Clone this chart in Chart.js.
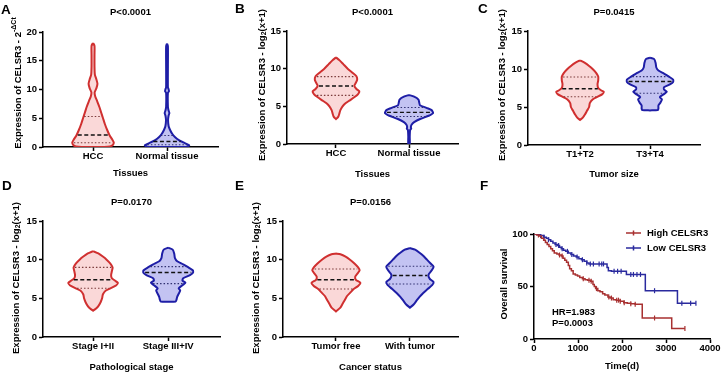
<!DOCTYPE html>
<html>
<head>
<meta charset="utf-8">
<script src="https://cdn.jsdelivr.net/npm/chart.js@4.4.0/dist/chart.umd.min.js"></script>
<style>
  body { margin: 0; background: #fff; width: 723px; height: 374px; overflow: hidden; position: relative; font-family: "Liberation Sans", Arial, sans-serif; }
  .pan { position: absolute; }
  .pan canvas { display: block; }
  .lt { position: absolute; font-weight: bold; font-size: 13.5px; line-height: 1; color: #000; }
  .note { position: absolute; font-weight: bold; font-size: 9.5px; line-height: 1; color: #000; white-space: nowrap; }
</style>
</head>
<body>
<div class="pan" style="left:0;top:0"><canvas id="cA" width="240" height="185"></canvas></div>
<div class="pan" style="left:240px;top:0"><canvas id="cB" width="240" height="185"></canvas></div>
<div class="pan" style="left:480px;top:0"><canvas id="cC" width="243" height="185"></canvas></div>
<div class="pan" style="left:0;top:185px"><canvas id="cD" width="240" height="189"></canvas></div>
<div class="pan" style="left:240px;top:185px"><canvas id="cE" width="240" height="189"></canvas></div>
<div class="pan" style="left:480px;top:185px"><canvas id="cF" width="243" height="189"></canvas></div>

<div class="lt" style="left:1px;top:3px">A</div>
<div class="lt" style="left:235px;top:2px">B</div>
<div class="lt" style="left:478px;top:2px">C</div>
<div class="lt" style="left:2px;top:179px">D</div>
<div class="lt" style="left:235px;top:179px">E</div>
<div class="lt" style="left:480px;top:179px">F</div>

<div class="note" style="left:552px;top:307px">HR=1.983</div>
<div class="note" style="left:552px;top:318px">P=0.0003</div>

<script>
// categories
const tissueCats = ['HCC', 'Normal tissue'];
const sizeCats = ['T1+T2', 'T3+T4'];
const stageCats = ['Stage I+II', 'Stage III+IV'];
const statusCats = ['Tumor free', 'With tumor'];

// violin outlines, top to bottom: [value, half width in category units]
const aHcc = [[18.1,0],[17.6,0.02],[16,0.02],[14,0.02],[12.6,0.025],[11.8,0.045],[11,0.06],[10.2,0.045],[9.5,0.022],[8.8,0.03],[8,0.055],[7,0.085],[6,0.11],[5,0.135],[4,0.16],[3,0.19],[2,0.225],[1.3,0.26],[0.8,0.28],[0.4,0.27],[0.1,0.23],[0,0.15]];
const aNormal = [[18,0],[17.5,0.012],[14,0.012],[10.4,0.012],[10,0.022],[9.7,0.026],[9.4,0.012],[7,0.012],[6.4,0.02],[5.9,0.032],[5.4,0.02],[4.6,0.014],[3.6,0.022],[3,0.04],[2.3,0.07],[1.7,0.11],[1.2,0.16],[0.8,0.22],[0.5,0.27],[0.3,0.3],[0.1,0.28],[0,0.22]];
const bHcc = [[11.5,0],[11.1,0.05],[10.6,0.1],[10,0.16],[9.5,0.22],[9,0.28],[8.5,0.29],[8.1,0.27],[7.7,0.25],[7.3,0.28],[7,0.32],[6.6,0.3],[6.2,0.25],[5.8,0.19],[5.4,0.13],[5,0.09],[4.5,0.06],[4,0.045],[3.6,0.03],[3.3,0]];
const bNormal = [[6.5,0],[6.3,0.07],[5.9,0.13],[5.5,0.14],[5.15,0.15],[4.8,0.24],[4.5,0.31],[4.1,0.33],[3.75,0.27],[3.35,0.16],[2.9,0.07],[2.55,0.035],[2.25,0.025],[2.05,0.03],[1.85,0.015],[1,0.01],[0,0.01]];
const cSmall = [[11.15,0],[10.8,0.07],[10.4,0.13],[10,0.18],[9.5,0.23],[9,0.26],[8.5,0.26],[8,0.25],[7.5,0.26],[7.2,0.3],[7,0.34],[6.7,0.32],[6.3,0.24],[6,0.18],[5.5,0.14],[5,0.13],[4.5,0.1],[4,0.07],[3.6,0.04],[3.3,0]];
const cLarge = [[11.5,0],[11.3,0.06],[10.8,0.08],[10.2,0.09],[9.8,0.12],[9.4,0.2],[9,0.27],[8.6,0.33],[8.3,0.33],[8,0.29],[7.6,0.2],[7.3,0.2],[7,0.24],[6.7,0.2],[6.3,0.14],[6,0.17],[5.6,0.15],[5.2,0.12],[4.8,0.12],[4.6,0.11],[4.55,0]];
const dEarly = [[11.1,0],[10.8,0.07],[10.4,0.13],[10,0.18],[9.5,0.23],[9,0.26],[8.5,0.25],[8,0.24],[7.6,0.25],[7.3,0.29],[7,0.33],[6.7,0.31],[6.3,0.23],[6,0.17],[5.5,0.13],[5,0.12],[4.5,0.1],[4,0.07],[3.7,0.04],[3.4,0]];
const dLate = [[11.55,0],[11.3,0.06],[10.8,0.08],[10.2,0.09],[9.8,0.12],[9.4,0.2],[9,0.27],[8.6,0.33],[8.3,0.33],[8,0.29],[7.6,0.2],[7.3,0.19],[7,0.23],[6.7,0.19],[6.3,0.14],[6,0.16],[5.6,0.14],[5.2,0.12],[4.8,0.11],[4.6,0.1],[4.55,0]];
const eFree = [[10.8,0],[10.7,0.06],[10.4,0.13],[10,0.19],[9.5,0.25],[9,0.3],[8.6,0.32],[8.2,0.29],[7.8,0.26],[7.4,0.27],[7,0.33],[6.6,0.3],[6.2,0.24],[5.8,0.2],[5.3,0.15],[4.8,0.12],[4.3,0.09],[3.8,0.06],[3.3,0]];
const eWith = [[11.5,0],[11.3,0.07],[10.9,0.13],[10.5,0.18],[10,0.23],[9.5,0.28],[9.1,0.32],[8.7,0.3],[8.2,0.26],[7.9,0.25],[7.5,0.27],[7.1,0.32],[6.7,0.3],[6.2,0.24],[5.7,0.18],[5.2,0.13],[4.7,0.09],[4.2,0.05],[3.8,0]];

// quartiles: Q1, median, Q3
const aHccQ = [0.75, 2.1, 5.3], aNormalQ = [0.4, 0.95, 2.0];
const bHccQ = [6.45, 7.7, 8.95], bNormalQ = [3.65, 4.2, 4.85];
const cSmallQ = [6.35, 7.4, 8.95], cLargeQ = [6.8, 8.35, 9.0];
const dEarlyQ = [6.3, 7.4, 9.0], dLateQ = [6.9, 8.35, 9.1];
const eFreeQ = [6.2, 7.4, 8.8], eWithQ = [6.85, 7.95, 9.15];

// survival (days, %)
const highT = [0,60,120,170,220,260,300,340,380,420,460,520,570,620,660,700,740,780,810,850,890,940,990,1040,1100,1160,1220,1290,1340,1370,1400,1450,1500,1560,1610,1680,1730,1800,1870,1960,2040,2120,2200,2300,2460,3130,3430];
const highS = [100,99,98,96,94,92,90,88,86,84,82,81,80,79,77,75,73,70,67,65,62,61,60,58.5,57.5,56.5,56,55,52,50,48,46,45,43,42,40,39,37.5,37,36,34.5,34,33.5,33,20,10,10];
const lowT = [0,80,150,220,280,330,380,430,480,530,580,620,670,720,780,840,900,960,1020,1080,1140,1200,1250,1660,1690,1760,2100,2530,3260,3680];
const lowS = [100,99.5,98.5,97,96,94.5,93,91.5,90,89,87.5,86,84.5,83.5,82,80.5,79,78,76.5,75.5,74,72.5,71.5,68,65,64.5,61.5,46,34,34];
const highCens = [100,580,640,1120,1250,1300,1420,1700,1760,1880,1920,1960,2050,2200,2300,2740,3430];
const lowCens = [150,230,330,500,560,640,760,860,980,1100,1200,1280,1350,1480,1540,1580,1820,1900,1980,2200,2260,2340,2420,2740,3360,3560,3680];

const FAM = '"Liberation Sans", Arial, sans-serif';
const tickFont = { family: FAM, size: 9.5, weight: 'bold' };
const RED = '#d03030', RED_FILL = '#fad8d8', RED_DOT = '#7a3a3a';
const BLUE = '#1e1ea6', BLUE_FILL = '#c3c3f2', BLUE_DOT = '#303070';

function outline(prof, pos) {
  const right = prof.map(([y, w]) => ({ x: pos + w, y }));
  const left = prof.slice().reverse().map(([y, w]) => ({ x: pos - w, y }));
  return right.concat(left, [right[0]]);
}

function widthAt(prof, v) {
  for (let i = 0; i < prof.length - 1; i++) {
    const [y0, w0] = prof[i], [y1, w1] = prof[i + 1];
    if (v <= y0 && v >= y1) return w0 + (w1 - w0) * (y0 - v) / (y0 - y1);
  }
  return 0;
}

const panelText = {
  id: 'panelText',
  afterDraw(chart, args, opts) {
    const ctx = chart.ctx, ca = chart.chartArea;
    ctx.save();
    ctx.fillStyle = '#000';
    if (opts.title) {
      ctx.font = 'bold 9.5px ' + FAM;
      ctx.textAlign = 'center';
      ctx.textBaseline = 'middle';
      ctx.fillText(opts.title, (ca.left + ca.right) / 2, opts.titleY);
    }
    if (opts.yTitle) {
      const big = 'bold 9.5px ' + FAM, small = 'bold 7px ' + FAM;
      ctx.translate(opts.yx, opts.yy);
      ctx.rotate(-Math.PI / 2);
      let total = 0;
      opts.yTitle.forEach(p => { ctx.font = p[1] ? small : big; total += ctx.measureText(p[0]).width; });
      let x = -total / 2;
      ctx.textAlign = 'left';
      ctx.textBaseline = 'middle';
      opts.yTitle.forEach(p => {
        ctx.font = p[1] ? small : big;
        const dy = p[1] === 'sub' ? 2.5 : p[1] === 'sup' ? -3.5 : 0;
        ctx.fillText(p[0], x, dy);
        x += ctx.measureText(p[0]).width;
      });
    }
    ctx.restore();
  }
};

function axisGrid() {
  return { drawOnChartArea: false, drawTicks: true, tickLength: 4, color: '#000', tickColor: '#000', tickWidth: 1.5 };
}

function violinChart(id, cats, profs, quarts, ymax, geo, xr, title, xTitle, yTitle) {
  const canvas = document.getElementById(id);
  const W = canvas.width, H = canvas.height;
  const cols = [[RED, RED_FILL, RED_DOT], [BLUE, BLUE_FILL, BLUE_DOT]];
  const ds = [];
  profs.forEach((p, i) => {
    const pos = i + 1;
    ds.push({ data: outline(p, pos), showLine: true, fill: 'shape', borderColor: cols[i][0], backgroundColor: cols[i][1],
      borderWidth: 2, tension: 0.2, pointRadius: 0, order: 3 });
    quarts[i].forEach((q, k) => {
      const w = widthAt(p, q) * 0.93;
      ds.push({ data: [{ x: pos - w, y: q }, { x: pos + w, y: q }], showLine: true, fill: false,
        borderColor: k === 1 ? '#111' : cols[i][2], borderWidth: k === 1 ? 1.4 : 1.1,
        borderDash: k === 1 ? [4, 2.5] : [1.5, 2], pointRadius: 0, order: 1 });
    });
  });
  return new Chart(canvas, {
    type: 'scatter',
    data: { datasets: ds },
    options: {
      responsive: false,
      animation: false,
      layout: { padding: { left: 0, top: geo.t, right: W - geo.r, bottom: 0 } },
      plugins: {
        legend: { display: false },
        tooltip: { enabled: false },
        panelText: { title, titleY: geo.titleY, yTitle, yx: geo.yx, yy: geo.yy }
      },
      scales: {
        x: {
          type: 'linear', min: xr[0], max: xr[1],
          afterBuildTicks: s => { s.ticks = [{ value: 1 }, { value: 2 }]; },
          afterFit: s => { s.height = H - geo.b; s.paddingLeft = 0; s.paddingRight = 0; },
          ticks: { callback: v => cats[v - 1], color: '#000', font: tickFont, padding: 0, maxRotation: 0 },
          grid: axisGrid(),
          border: { display: true, color: '#000', width: 1.5 },
          title: { display: true, text: xTitle, color: '#000', font: tickFont, padding: { top: 0, bottom: geo.xtp } }
        },
        y: {
          min: 0, max: ymax,
          afterFit: s => { s.width = geo.l; s.paddingTop = 0; s.paddingBottom = 0; },
          ticks: { stepSize: 5, color: '#000', font: tickFont, padding: 2 },
          grid: axisGrid(),
          border: { display: true, color: '#000', width: 1.5 }
        }
      }
    },
    plugins: [panelText]
  });
}

const logTitle = [['Expression of CELSR3 - log'], ['2', 'sub'], ['(x+1)']];

violinChart('cA', tissueCats, [aHcc, aNormal], [aHccQ, aNormalQ], 20,
  { l: 43, t: 32, r: 218, b: 147, titleY: 12, yx: 18, yy: 83, xtp: 6 }, [0.324, 2.689],
  'P<0.0001', 'Tissues', [['Expression of CELSR3 - 2'], ['-ΔCt', 'sup']]);
violinChart('cB', tissueCats, [bHcc, bNormal], [bHccQ, bNormalQ], 15,
  { l: 47, t: 31, r: 218, b: 144, titleY: 12, yx: 22, yy: 85, xtp: 5 }, [0.329, 2.671],
  'P<0.0001', 'Tissues', logTitle);
violinChart('cC', sizeCats, [cSmall, cLarge], [cSmallQ, cLargeQ], 15,
  { l: 48, t: 31, r: 220, b: 145, titleY: 12, yx: 22, yy: 85, xtp: 5 }, [0.257, 2.714],
  'P=0.0415', 'Tumor size', logTitle);
violinChart('cD', stageCats, [dEarly, dLate], [dEarlyQ, dLateQ], 15,
  { l: 43, t: 36, r: 220, b: 152, titleY: 17, yx: 16, yy: 93, xtp: 0.5 }, [0.333, 2.69],
  'P=0.0170', 'Pathological stage', logTitle);
violinChart('cE', statusCats, [eFree, eWith], [eFreeQ, eWithQ], 15,
  { l: 43, t: 36, r: 218, b: 152, titleY: 17, yx: 16, yy: 93, xtp: 0.5 }, [0.284, 2.65],
  'P=0.0156', 'Cancer status', logTitle);

// Kaplan-Meier panel
function survAt(t, times, surv) {
  let s = surv[0];
  for (let i = 0; i < times.length; i++) if (times[i] <= t) s = surv[i];
  return s;
}

const KM_RED = '#a83030', KM_BLUE = '#2a2a9e';

const kmLegend = {
  id: 'kmLegend',
  afterDraw(chart) {
    const ctx = chart.ctx;
    const items = [['High CELSR3', KM_RED, 48], ['Low CELSR3', KM_BLUE, 63]];
    ctx.save();
    items.forEach(([label, col, y]) => {
      ctx.strokeStyle = col;
      ctx.lineWidth = 1.5;
      ctx.beginPath();
      ctx.moveTo(146, y); ctx.lineTo(161, y);
      ctx.moveTo(153.5, y - 2.5); ctx.lineTo(153.5, y + 2.5);
      ctx.stroke();
      ctx.fillStyle = '#000';
      ctx.font = 'bold 9.5px ' + FAM;
      ctx.textAlign = 'left';
      ctx.textBaseline = 'middle';
      ctx.fillText(label, 167, y);
    });
    ctx.restore();
  }
};

(function () {
  const canvas = document.getElementById('cF');
  const W = canvas.width, H = canvas.height;
  const geo = { l: 54, t: 49, r: 230, b: 154 };
  const line = (t, s) => t.map((x, i) => ({ x, y: s[i] }));
  const cens = (c, t, s) => c.map(x => ({ x, y: survAt(x, t, s) }));
  new Chart(canvas, {
    type: 'scatter',
    data: {
      datasets: [
        { label: 'High CELSR3', data: line(highT, highS), showLine: true, stepped: true, borderColor: KM_RED, borderWidth: 1.5, pointRadius: 0, fill: false },
        { label: 'Low CELSR3', data: line(lowT, lowS), showLine: true, stepped: true, borderColor: KM_BLUE, borderWidth: 1.5, pointRadius: 0, fill: false },
        { data: cens(highCens, highT, highS), pointStyle: 'line', rotation: 90, pointRadius: 2.5, borderColor: KM_RED, borderWidth: 1.2 },
        { data: cens(lowCens, lowT, lowS), pointStyle: 'line', rotation: 90, pointRadius: 2.5, borderColor: KM_BLUE, borderWidth: 1.2 }
      ]
    },
    options: {
      responsive: false,
      animation: false,
      layout: { padding: { left: 0, top: geo.t, right: W - geo.r, bottom: 0 } },
      plugins: {
        legend: { display: false },
        tooltip: { enabled: false },
        panelText: { yTitle: [['Overall survival']], yx: 24, yy: 99 }
      },
      scales: {
        x: {
          min: 0, max: 4000,
          afterFit: s => { s.height = H - geo.b; s.paddingLeft = 0; s.paddingRight = 0; },
          ticks: { stepSize: 1000, callback: v => String(v), color: '#000', font: tickFont, padding: 0, maxRotation: 0 },
          grid: axisGrid(),
          border: { display: true, color: '#000', width: 1.5 },
          title: { display: true, text: 'Time(d)', color: '#000', font: tickFont, padding: { top: 0, bottom: 1.5 } }
        },
        y: {
          min: 0, max: 100,
          afterFit: s => { s.width = geo.l; s.paddingTop = 0; s.paddingBottom = 0; },
          ticks: { stepSize: 50, color: '#000', font: tickFont, padding: 2 },
          grid: axisGrid(),
          border: { display: true, color: '#000', width: 1.5 }
        }
      }
    },
    plugins: [panelText, kmLegend]
  });
})();
</script>
</body>
</html>
